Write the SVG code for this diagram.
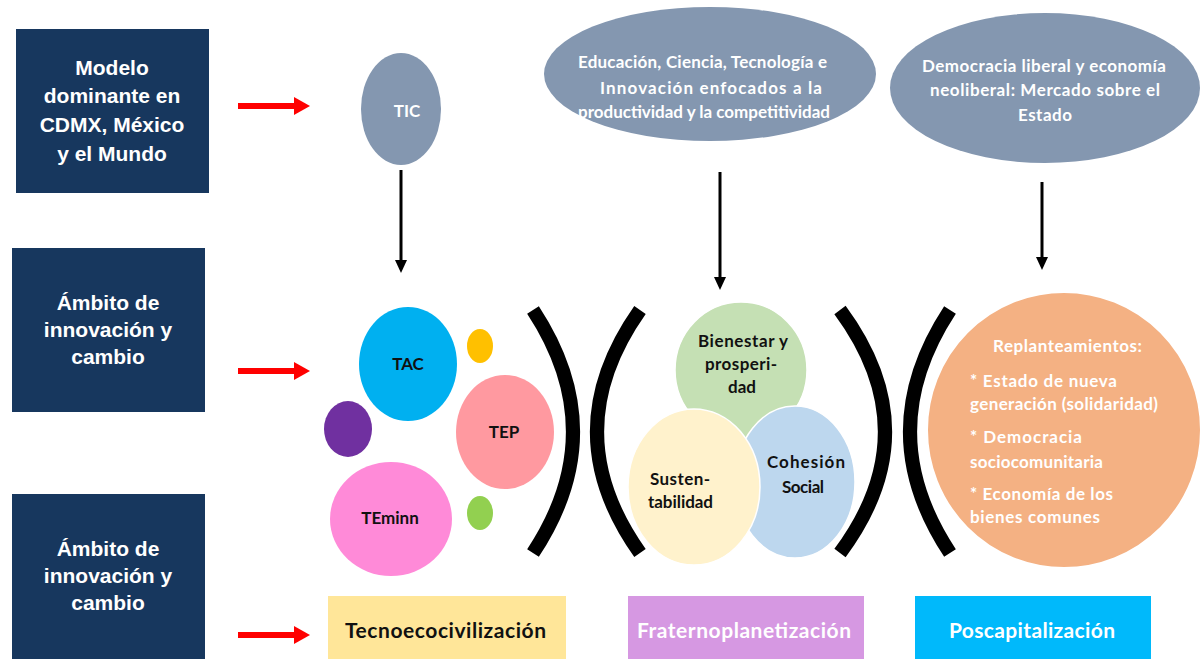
<svg xmlns="http://www.w3.org/2000/svg" width="1200" height="659" viewBox="0 0 1200 659">
  <defs>
    <style>
      .box{fill:#17375e}
      .bt{font-family:"Liberation Sans",Arial,sans-serif;font-weight:bold;font-size:21px;fill:#ffffff;text-anchor:middle}
      .ct{font-family:Lato,"Open Sans",sans-serif;font-weight:bold}
      .mid{text-anchor:middle}
      .w{fill:#ffffff}
      .k{fill:#111111}
      .red{fill:#ff0000}
      .conn{stroke:#000000;stroke-width:3;fill:none}
      .br{stroke:#000000;stroke-width:14;fill:none}
      .gray{fill:#8497b0}
    </style>
  </defs>

  <g id="label-modelo">
    <rect class="box" x="16" y="29" width="193" height="164"/>
    <text class="bt" x="112" y="75">Modelo</text>
    <text class="bt" x="112" y="103">dominante en</text>
    <text class="bt" x="112" y="132">CDMX, México</text>
    <text class="bt" x="112" y="161">y el Mundo</text>
  </g>
  <g id="label-ambito1">
    <rect class="box" x="12" y="248" width="193" height="164"/>
    <text class="bt" x="108" y="310">Ámbito de</text>
    <text class="bt" x="108" y="337">innovación y</text>
    <text class="bt" x="108" y="364">cambio</text>
  </g>
  <g id="label-ambito2">
    <rect class="box" x="12" y="494" width="193" height="165"/>
    <text class="bt" x="108" y="556">Ámbito de</text>
    <text class="bt" x="108" y="583">innovación y</text>
    <text class="bt" x="108" y="610">cambio</text>
  </g>

  <g id="connectors">
    <g id="red-arrows">
      <rect class="red" x="238" y="103" width="58" height="6"/>
      <path class="red" d="M294,97 L310,106 L294,115 Z"/>
      <rect class="red" x="238" y="368" width="58" height="6"/>
      <path class="red" d="M294,362 L310,371 L294,380 Z"/>
      <rect class="red" x="238" y="632" width="58" height="6"/>
      <path class="red" d="M294,626 L310,635 L294,644 Z"/>
    </g>
    <path d="M401,170 L401,262" class="conn"/>
    <path d="M395,260 L407,260 L401,273 Z" fill="#000"/>
    <path d="M720,172 L720,279" class="conn"/>
    <path d="M714,277 L726,277 L720,290 Z" fill="#000"/>
    <path d="M1042,182 L1042,259" class="conn"/>
    <path d="M1036,257 L1048,257 L1042,270 Z" fill="#000"/>
  </g>

  <g id="tic">
    <ellipse class="gray" cx="401" cy="109" rx="40" ry="56"/>
    <text class="ct w mid" x="407" y="117" font-size="17">TIC</text>
  </g>
  <g id="educacion">
    <ellipse class="gray" cx="710" cy="74" rx="166" ry="67"/>
    <text class="ct w" x="578" y="68" font-size="17" textLength="249">Educación, Ciencia, Tecnología e</text>
    <text class="ct w" x="600" y="94" font-size="17" textLength="222">Innovación enfocados a la</text>
    <text class="ct w" x="578" y="118" font-size="17" textLength="252">productividad y la competitividad</text>
  </g>
  <g id="democracia">
    <ellipse class="gray" cx="1045" cy="88" rx="155" ry="75"/>
    <text class="ct w" x="922" y="72" font-size="17" textLength="244">Democracia liberal y economía</text>
    <text class="ct w" x="930" y="96" font-size="17" textLength="230">neoliberal: Mercado sobre el</text>
    <text class="ct w" x="1018" y="121" font-size="17" textLength="54">Estado</text>
  </g>

  <g id="brackets">
    <path class="br" d="M533,310 Q613,432 533,553"/>
    <path class="br" d="M640,310 Q554,432 640,553"/>
    <path class="br" d="M840,310 Q930,432 840,553"/>
    <path class="br" d="M950,310 Q870,432 950,553"/>
  </g>

  <g id="tac">
    <ellipse cx="408" cy="364" rx="49" ry="57" fill="#00b0f0"/>
    <text class="ct k mid" x="408" y="370" font-size="17">TAC</text>
  </g>
  <g id="dot-yellow"><ellipse cx="480" cy="346" rx="13" ry="17" fill="#ffc000"/></g>
  <g id="dot-purple"><ellipse cx="348" cy="429" rx="24" ry="28" fill="#7030a0"/></g>
  <g id="tep">
    <ellipse cx="505" cy="432" rx="49" ry="57" fill="#ff99a0"/>
    <text class="ct k mid" x="504" y="438" font-size="17">TEP</text>
  </g>
  <g id="teminn">
    <ellipse cx="391" cy="519" rx="61" ry="57" fill="#ff8ad8"/>
    <text class="ct k mid" x="390" y="524" font-size="17">TEminn</text>
  </g>
  <g id="dot-green"><ellipse cx="480" cy="513" rx="13" ry="17" fill="#92d050"/></g>

  <g id="bienestar">
    <ellipse cx="741" cy="370" rx="66" ry="68" fill="#c5e0b4" stroke="#ffffff" stroke-width="1.5"/>
    <text class="ct k" x="698" y="347" font-size="17" textLength="90">Bienestar y</text>
    <text class="ct k" x="705" y="370" font-size="17" textLength="72">prosperi-</text>
    <text class="ct k" x="728" y="393" font-size="17" textLength="28">dad</text>
  </g>
  <g id="cohesion">
    <ellipse cx="795" cy="482" rx="60" ry="76" fill="#bdd7ee" stroke="#ffffff" stroke-width="1.5"/>
    <text class="ct k" x="767" y="468" font-size="17" textLength="78">Cohesión</text>
    <text class="ct k" x="782" y="493" font-size="17" textLength="42">Social</text>
  </g>
  <g id="sustentabilidad">
    <ellipse cx="694" cy="487" rx="66" ry="78" fill="#fff2cc" stroke="#ffffff" stroke-width="1.5"/>
    <text class="ct k" x="650" y="485" font-size="17" textLength="60">Susten-</text>
    <text class="ct k" x="648" y="508" font-size="17" textLength="65">tabilidad</text>
  </g>

  <g id="replanteamientos">
    <ellipse cx="1064" cy="430" rx="137" ry="138" fill="#f4b183" stroke="#ffffff" stroke-width="2"/>
    <g class="ct w" font-size="17">
      <text x="993" y="352" textLength="149">Replanteamientos:</text>
      <text x="970" y="387" textLength="147">* Estado de nueva</text>
      <text x="970" y="410" textLength="188">generación (solidaridad)</text>
      <text x="970" y="443" textLength="112">* Democracia</text>
      <text x="970" y="468" textLength="133">sociocomunitaria</text>
      <text x="970" y="500" textLength="143">* Economía de los</text>
      <text x="970" y="523" textLength="130">bienes comunes</text>
    </g>
  </g>

  <g id="tecnoecocivilizacion">
    <rect x="328" y="596" width="238" height="63" fill="#ffe699"/>
    <text class="ct k" x="345" y="638" font-size="21" textLength="201">Tecnoecocivilización</text>
  </g>
  <g id="fraternoplanetizacion">
    <rect x="628" y="596" width="236" height="63" fill="#d698e2"/>
    <text class="ct w" x="637" y="638" font-size="21" textLength="214">Fraternoplanetización</text>
  </g>
  <g id="poscapitalizacion">
    <rect x="915" y="596" width="236" height="63" fill="#00b9fb"/>
    <text class="ct w" x="949" y="638" font-size="21" textLength="166">Poscapitalización</text>
  </g>
</svg>
